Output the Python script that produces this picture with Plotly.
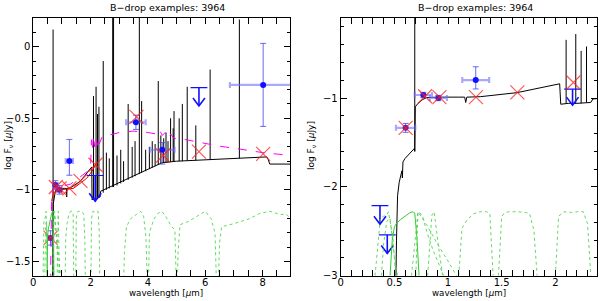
import plotly.graph_objects as go

# ---------------- data ----------------
# model spectrum: continuum (wavelength in micron, log F_nu)
spec_wave = [0.50, 0.515, 0.52, 0.53, 0.545, 0.56, 0.57, 0.575, 0.58, 0.60, 0.64, 0.66, 0.685, 0.69,
             0.695, 0.72, 0.76, 0.80, 0.90, 1.10, 1.155, 1.165, 1.175, 1.30, 1.50, 1.64, 1.80, 2.04,
             2.05, 2.12, 2.20, 2.33, 2.35, 3.0, 4.0, 4.5, 5.0, 6.0, 7.0, 8.15, 8.2, 8.25, 9.0]
spec_flux = [-3.2, -3.0, -2.6, -2.1, -1.95, -1.88, -1.82, -1.90, -1.72, -1.68, -1.63, -1.60, -1.57, -1.60,
             -1.10, -1.06, -1.02, -0.995, -0.99, -0.99, -0.99, -1.05, -0.99, -0.985, -0.96, -0.94, -0.90, -0.84,
             -1.07, -1.06, -1.06, -1.05, -1.01, -0.95, -0.86, -0.81, -0.80, -0.79, -0.78, -0.77, -0.79, -0.82, -0.82]
# emission lines of the model spectrum
line_wave = [0.69, 2.10, 2.19, 2.24, 2.29, 2.44, 2.55, 2.65, 2.77, 2.80, 2.92, 3.05, 3.15, 3.31, 3.45,
             3.55, 3.70, 3.78, 3.92, 4.05, 4.15, 4.25, 4.36, 4.45, 4.55, 4.63, 4.70, 4.79, 4.88, 4.91,
             5.09, 5.20, 5.37, 5.67, 6.17, 7.19]
line_base = [-1.60, -1.06, -1.06, -1.06, -1.05, -1.02, -1.00, -0.99, -0.98, -0.98, -0.97, -0.955, -0.945,
             -0.93, -0.915, -0.905, -0.89, -0.88, -0.87, -0.855, -0.845, -0.835, -0.825, -0.815, -0.81,
             -0.81, -0.81, -0.805, -0.80, -0.80, -0.80, -0.80, -0.795, -0.795, -0.79, -0.78]
line_peak = [0.12, -0.345, -0.28, -0.47, -0.42, -0.10, -0.74, -0.78, 0.30, 0.30, -0.76, -0.72, -0.80,
             -0.40, -0.70, -0.66, 0.30, -0.38, -0.72, -0.70, -0.66, -0.68, -0.24, -0.62, -0.64, -0.60,
             -0.66, -0.50, -0.57, -0.45, -0.50, -0.40, -0.28, -0.55, -0.16, 0.19]

# second model (magenta, dashed) - left panel only
mag_wave = [0.60, 0.62, 0.64, 0.68, 0.75, 0.90, 1.10, 1.30, 1.50, 1.70, 1.90, 2.00, 2.03, 2.06, 2.10,
            2.14, 2.18, 2.22, 2.26, 2.30, 2.40, 3.00, 3.50, 4.00, 4.30, 4.40, 4.50, 4.60, 4.70, 4.80,
            4.90, 5.20, 5.80, 6.50, 7.20, 8.00, 8.50, 9.00]
mag_flux = [-1.65, -1.35, -1.06, -0.99, -0.97, -0.97, -0.97, -0.96, -0.93, -0.90, -0.87, -0.84, -0.65,
            -0.72, -0.62, -0.70, -0.63, -0.69, -0.64, -0.68, -0.63, -0.60, -0.59, -0.60, -0.61, -0.58,
            -0.62, -0.60, -0.64, -0.61, -0.64, -0.645, -0.67, -0.695, -0.715, -0.74, -0.75, -0.76]

# red model line (left panel)
red_wave = [0.64, 0.70, 0.90, 1.10, 1.40, 1.60, 1.86, 2.05, 2.21]
red_flux = [-1.08, -1.02, -1.00, -0.995, -0.99, -0.96, -0.92, -0.87, -0.81]

# observed photometry
obs_wave = [0.605, 0.77, 0.91, 1.258, 3.58, 4.50, 8.02]
obs_flux = [-1.336, -0.966, -1.00, -0.798, -0.528, -0.72, -0.267]
obs_xerr = [0.09, 0.08, 0.08, 0.125, 0.34, 0.43, 1.16]
obs_yerr_up = [0.05, 0.03, 0.03, 0.15, 0.05, 0.05, 0.29]
obs_yerr_dn = [0.05, 0.03, 0.03, 0.10, 0.05, 0.10, 0.29]

# upper limits (cap value and arrow tip)
ul_wave = [0.366, 0.434, 2.16, 5.78]
ul_cap = [-2.21, -2.54, -0.90, -0.286]
ul_tip = [-2.42, -2.75, -1.08, -0.414]

# model photometry (red crosses)
mod_wave = [0.605, 0.786, 0.92, 1.26, 1.646, 2.168, 3.60, 4.53, 5.78, 8.02]
mod_flux = [-1.336, -0.98, -0.99, -0.99, -0.937, -0.825, -0.49, -0.76, -0.733, -0.749]

# filter transmission curves (normalised)
fB1_w = [0.32, 0.345, 0.37, 0.40, 0.43, 0.445, 0.47, 0.49, 0.51]
fB1_t = [0.0, 0.4, 0.9, 0.93, 0.95, 1.0, 0.75, 0.55, 0.0]
fB2_w = [0.38, 0.40, 0.43, 0.46, 0.48, 0.50, 0.53]
fB2_t = [0.0, 0.5, 0.85, 0.9, 0.6, 0.3, 0.0]
fV_w = [0.46, 0.48, 0.50, 0.52, 0.56, 0.60, 0.64, 0.67, 0.69, 0.71, 0.73]
fV_t = [0.0, 0.55, 0.76, 0.82, 0.88, 0.93, 0.98, 1.0, 0.98, 0.6, 0.0]
fi_w = [0.66, 0.69, 0.72, 0.76, 0.80, 0.86, 0.92, 0.96]
fi_t = [0.0, 0.5, 1.0, 0.95, 0.7, 0.4, 0.15, 0.0]
fI_w = [0.70, 0.71, 0.72, 0.80, 0.90, 1.00, 1.08]
fI_t = [0.0, 0.6, 1.0, 0.8, 0.5, 0.23, 0.0]
fz_w = [0.81, 0.83, 0.85, 0.87, 0.89, 0.92, 0.95]
fz_t = [0.0, 0.55, 0.95, 1.0, 0.7, 0.35, 0.0]
fJ_w = [1.10, 1.13, 1.18, 1.24, 1.30, 1.36, 1.39, 1.41, 1.42]
fJ_t = [0.0, 0.74, 0.88, 0.97, 1.0, 1.0, 0.97, 0.42, 0.0]
fH_w = [1.47, 1.50, 1.53, 1.56, 1.65, 1.72, 1.76, 1.80, 1.83]
fH_t = [0.0, 0.93, 0.98, 1.0, 1.0, 0.99, 0.97, 0.71, 0.0]
fK_w = [2.00, 2.03, 2.08, 2.15, 2.20, 2.26, 2.30, 2.33]
fK_t = [0.0, 0.93, 1.0, 0.99, 1.0, 1.0, 0.81, 0.0]
fc1_w = [3.12, 3.18, 3.25, 3.40, 3.60, 3.75, 3.85, 3.93, 3.98, 4.00]
fc1_t = [0.0, 0.6, 0.85, 0.93, 0.97, 1.0, 0.95, 0.75, 0.3, 0.0]
fc2_w = [4.00, 4.05, 4.20, 4.35, 4.48, 4.60, 4.80, 4.94, 4.98, 5.00]
fc2_t = [0.0, 0.79, 0.92, 0.98, 1.0, 0.96, 0.86, 0.82, 0.4, 0.0]
fc3_w = [5.00, 5.05, 5.12, 5.40, 5.70, 6.00, 6.20, 6.34, 6.38, 6.42]
fc3_t = [0.0, 0.6, 0.87, 0.9, 0.95, 1.0, 0.93, 0.79, 0.4, 0.0]
fc4_w = [6.42, 6.50, 6.57, 7.00, 7.56, 7.90, 8.26, 8.60, 8.84, 9.00]
fc4_t = [0.0, 0.7, 0.85, 0.88, 0.93, 0.98, 1.0, 0.97, 0.97, 0.92]

filters = [(fB1_w, fB1_t, False), (fB2_w, fB2_t, False), (fV_w, fV_t, True), (fi_w, fi_t, False),
           (fI_w, fI_t, False), (fz_w, fz_t, False), (fJ_w, fJ_t, False), (fH_w, fH_t, False),
           (fK_w, fK_t, False), (fc1_w, fc1_t, False), (fc2_w, fc2_t, False), (fc3_w, fc3_t, False),
           (fc4_w, fc4_t, False)]

title_text = "B\u2212drop examples: 3964"
x_label = "wavelength [<i>\u00b5</i>m]"
y_label = "log F<sub>\u03bd</sub> [<i>\u00b5</i>Jy]"

# ---------------- figure ----------------
W, H = 600, 301
fig = go.Figure()

FONT = "DejaVu Sans"
BLUE = "#1010ff"
ydom = [0.084, 0.940]

panels = [
    dict(x="x", y="y", f="y3", xr=[0, 8.96], yr=[-1.6, 0.2], xdom=[0.0555, 0.4835], left=True),
    dict(x="x2", y="y2", f="y4", xr=[0, 2.385], yr=[-3.0, -0.1], xdom=[0.5678, 0.9945], left=False),
]

for p in panels:
    # data units per pixel (for the size of the upper-limit arrow heads)
    dx_px = (p["xr"][1] - p["xr"][0]) / ((p["xdom"][1] - p["xdom"][0]) * W)
    dy_px = (p["yr"][1] - p["yr"][0]) / ((ydom[1] - ydom[0]) * H)
    # filter curves
    for fw, ft, solid in filters:
        fig.add_trace(go.Scatter(
            x=fw, y=ft, xaxis=p["x"], yaxis=p["f"], mode="lines",
            line=dict(color="#33cc33" if solid else "rgba(70,210,70,0.85)", width=1,
                      dash="solid" if solid else "dot"),
            hoverinfo="skip", showlegend=False))
    # spectrum continuum
    fig.add_trace(go.Scatter(x=spec_wave, y=spec_flux, xaxis=p["x"], yaxis=p["y"], mode="lines",
                             line=dict(color="black", width=1), showlegend=False))
    # emission lines
    lx, ly = [], []
    for w, b, pk in zip(line_wave, line_base, line_peak):
        lx += [w, w, None]
        ly += [b, pk, None]
    fig.add_trace(go.Scatter(x=lx, y=ly, xaxis=p["x"], yaxis=p["y"], mode="lines",
                             line=dict(color="black", width=1), showlegend=False))
    if p["left"]:
        fig.add_trace(go.Scatter(x=mag_wave, y=mag_flux, xaxis=p["x"], yaxis=p["y"], mode="lines",
                                 line=dict(color="#ff00ff", width=1, dash="dash"), showlegend=False))
        fig.add_trace(go.Scatter(x=red_wave, y=red_flux, xaxis=p["x"], yaxis=p["y"], mode="lines",
                                 line=dict(color="#e00000", width=1), showlegend=False))
    # observed points
    fig.add_trace(go.Scatter(
        x=obs_wave, y=obs_flux, xaxis=p["x"], yaxis=p["y"], mode="markers",
        marker=dict(size=6, color=["#6020b0", "#3a1ad8", "#4a1ac8", BLUE, BLUE, BLUE, BLUE]),
        error_x=dict(type="data", array=obs_xerr, color="rgba(110,110,255,0.6)", thickness=2.2, width=3),
        error_y=dict(type="data", array=obs_yerr_up, arrayminus=obs_yerr_dn,
                     color="rgba(70,70,240,0.8)", thickness=1, width=3),
        showlegend=False))
    # upper limits: cap, stem and open arrow head
    fig.add_trace(go.Scatter(x=ul_wave, y=ul_cap, xaxis=p["x"], yaxis=p["y"], mode="markers",
                             marker=dict(symbol="line-ew-open", size=12, color=BLUE,
                                         line=dict(color=BLUE, width=1.2)),
                             showlegend=False))
    sx, sy = [], []
    for w, c, t in zip(ul_wave, ul_cap, ul_tip):
        sx += [w, w, None, w - 6 * dx_px, w, w + 6 * dx_px, None]
        sy += [c, t, None, t + 8 * dy_px, t, t + 8 * dy_px, None]
    fig.add_trace(go.Scatter(x=sx, y=sy, xaxis=p["x"], yaxis=p["y"], mode="lines",
                             line=dict(color=BLUE, width=1.6), showlegend=False))
    # model crosses
    fig.add_trace(go.Scatter(x=mod_wave, y=mod_flux, xaxis=p["x"], yaxis=p["y"], mode="markers",
                             marker=dict(symbol="x-thin-open", size=14, color="rgba(255,30,30,0.75)",
                                         line=dict(color="rgba(255,30,30,0.75)", width=1.2)),
                             showlegend=False))

axis_common = dict(showline=True, mirror="allticks", linecolor="black", linewidth=1,
                   ticks="inside", ticklen=6, tickcolor="black", showgrid=False, zeroline=False,
                   automargin=False, tickfont=dict(family=FONT, size=10, color="black"))
lab_font = dict(family=FONT, size=9, color="black")

fig.update_layout(
    width=W, height=H, margin=dict(l=0, r=0, t=0, b=0, autoexpand=False),
    paper_bgcolor="white", plot_bgcolor="white", showlegend=False,
    xaxis=dict(domain=panels[0]["xdom"], range=panels[0]["xr"], anchor="y", dtick=2, tick0=0,
               ticklabelstandoff=-3,
               minor=dict(dtick=0.5, ticklen=3, ticks="inside", tickcolor="black"), **axis_common),
    yaxis=dict(domain=ydom, range=panels[0]["yr"], anchor="x", dtick=0.5, tick0=0,
               minor=dict(dtick=0.1, ticklen=3, ticks="inside", tickcolor="black"), **axis_common),
    xaxis2=dict(domain=panels[1]["xdom"], range=panels[1]["xr"], anchor="y2", dtick=0.5, tick0=0,
                ticklabelstandoff=-3,
                minor=dict(dtick=0.1, ticklen=3, ticks="inside", tickcolor="black"), **axis_common),
    yaxis2=dict(domain=ydom, range=panels[1]["yr"], anchor="x2", dtick=1, tick0=0,
                minor=dict(dtick=0.2, ticklen=3, ticks="inside", tickcolor="black"), **axis_common),
    yaxis3=dict(overlaying="y", anchor="x", range=[0.375, 2.875], visible=False),
    yaxis4=dict(overlaying="y2", anchor="x2", range=[0.0, 4.028], visible=False),
)

# panel titles and axis labels
for xc, xl in [(167 / 600, 166 / 600), (475 / 600, 469 / 600)]:
    fig.add_annotation(text=title_text, x=xc, y=1 - 7 / 301, xref="paper", yref="paper",
                       showarrow=False, font=dict(family=FONT, size=9.5, color="black"),
                       xanchor="center", yanchor="middle")
    fig.add_annotation(text=x_label, x=xl, y=1 / 301, xref="paper", yref="paper",
                       showarrow=False, font=dict(family=FONT, size=8.7, color="black"),
                       xanchor="center", yanchor="bottom")
for xc in [8 / 600, 311 / 600]:
    fig.add_annotation(text=y_label, x=xc, y=1 - 146 / 301, xref="paper", yref="paper",
                       showarrow=False, textangle=-90, font=lab_font,
                       xanchor="center", yanchor="middle")

# remove the default page margin so the 600x301 figure fills the window exactly; hide the modebar
fig.write_html("out.html", config={"displayModeBar": False},
               post_script="document.body.style.margin='0';document.body.style.overflow='hidden';")
